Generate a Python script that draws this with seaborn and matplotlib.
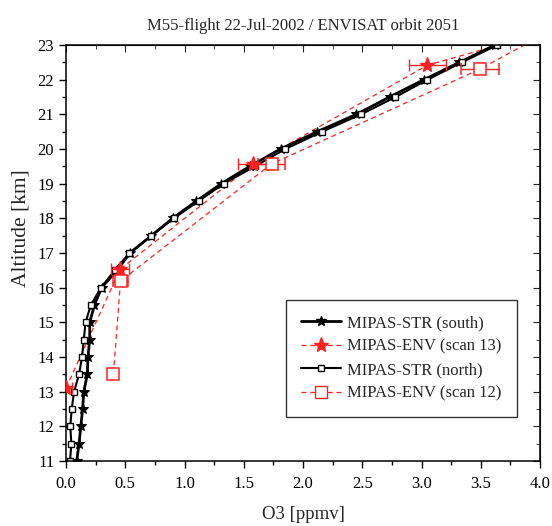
import numpy as np
import pandas as pd
import matplotlib
matplotlib.use("Agg")
import matplotlib.pyplot as plt
import seaborn as sns
from matplotlib.lines import Line2D
from matplotlib.ticker import MultipleLocator, FormatStrFormatter

# MIPAS-STR profiles, every 0.5 km
str_alt = [11.0, 11.5, 12.0, 12.5, 13.0, 13.5, 14.0, 14.5, 15.0, 15.5, 16.0, 16.5,
           17.0, 17.5, 18.0, 18.5, 19.0, 19.5, 20.0, 20.5, 21.0, 21.5, 22.0, 22.5, 23.0]
south_o3 = [0.09, 0.11, 0.125, 0.14, 0.15, 0.18, 0.185, 0.20, 0.20, 0.24, 0.30, 0.43,
            0.54, 0.72, 0.90, 1.10, 1.31, 1.55, 1.81, 2.12, 2.45, 2.73, 3.02, 3.32, 3.62]
north_o3 = [0.034, 0.045, 0.036, 0.048, 0.068, 0.11, 0.135, 0.15, 0.165, 0.21, 0.295, 0.41,
            0.535, 0.72, 0.91, 1.12, 1.33, 1.595, 1.85, 2.16, 2.49, 2.78, 3.05, 3.34, 3.64]

# MIPAS-ENV retrievals (last point lies above the plotted range)
scan13_alt = [13.1, 16.53, 19.56, 22.42, 23.6]
scan13_o3 = [0.0, 0.456, 1.58, 3.05, 4.29]
scan13_err = [0.05, 0.075, 0.13, 0.155, 0.0]

scan12_alt = [13.51, 16.19, 19.57, 22.3, 23.6]
scan12_o3 = [0.40, 0.46, 1.735, 3.49, 4.19]
scan12_err = [0.0, 0.063, 0.115, 0.16, 0.0]

sns.set_style("ticks")
plt.rcParams['font.family'] = ['Liberation Serif', 'DejaVu Serif']

fig = plt.figure(figsize=(5.52, 5.26), dpi=100)
ax = fig.add_axes([0.1196, 0.1236, 0.8587, 0.7908])

south = pd.DataFrame({"alt": str_alt, "o3": south_o3})
north = pd.DataFrame({"alt": str_alt, "o3": north_o3})
env13 = pd.DataFrame({"alt": scan13_alt, "o3": scan13_o3, "err": scan13_err})
env12 = pd.DataFrame({"alt": scan12_alt, "o3": scan12_o3, "err": scan12_err})

red = "#ff2020"
dash = (0, (4, 3))

# ENV dashed lines first
sns.lineplot(data=env13, x="o3", y="alt", sort=False, estimator=None, ax=ax,
             color=red, lw=0.9, linestyle=dash)
sns.lineplot(data=env12, x="o3", y="alt", sort=False, estimator=None, ax=ax,
             color=red, lw=0.9, linestyle=dash)

# STR black profiles
sns.lineplot(data=south, x="o3", y="alt", sort=False, estimator=None, ax=ax,
             color="black", lw=2.0, marker="*", markersize=7,
             markerfacecolor="black", markeredgecolor="black")
sns.lineplot(data=north, x="o3", y="alt", sort=False, estimator=None, ax=ax,
             color="black", lw=1.5, marker="s", markersize=5,
             markerfacecolor="white", markeredgecolor="black", markeredgewidth=1.0)

# ENV points with error bars
ax.errorbar(env13["o3"], env13["alt"], xerr=env13["err"], fmt="*", color=red,
            markersize=11, capsize=4, elinewidth=1, capthick=1, zorder=5)
ax.errorbar(env12["o3"], env12["alt"], xerr=env12["err"], fmt="s", color=red,
            markersize=8, markerfacecolor="white", markeredgewidth=1.1,
            capsize=4, elinewidth=1, capthick=1, zorder=5)

ax.set_xlim(0, 4.0)
ax.set_ylim(11, 23)
ax.xaxis.set_major_locator(MultipleLocator(0.5))
ax.xaxis.set_minor_locator(MultipleLocator(0.25))
ax.xaxis.set_major_formatter(FormatStrFormatter("%.1f"))
ax.yaxis.set_major_locator(MultipleLocator(1))
ax.yaxis.set_minor_locator(MultipleLocator(0.5))

ax.tick_params(axis="both", which="both", direction="out", labelsize=12,
               width=1, colors="black")
ax.tick_params(which="major", length=5)
ax.tick_params(which="minor", length=3)
ax.tick_params(axis="x", pad=6)
for s in ax.spines.values():
    s.set_linewidth(1.1)
    s.set_color("black")

# mirrored inward ticks on top / right
top = ax.secondary_xaxis("top")
top.xaxis.set_major_locator(MultipleLocator(0.5))
top.xaxis.set_minor_locator(MultipleLocator(0.25))
top.tick_params(which="both", direction="in", labeltop=False)
top.tick_params(which="major", length=5)
top.tick_params(which="minor", length=3)
right = ax.secondary_yaxis("right")
right.yaxis.set_major_locator(MultipleLocator(1))
right.yaxis.set_minor_locator(MultipleLocator(0.5))
right.tick_params(which="both", direction="in", labelright=False)
right.tick_params(which="major", length=5)
right.tick_params(which="minor", length=3)

ax.set_xlabel("O3 [ppmv]", fontsize=13.5, labelpad=10)
ax.set_ylabel("Altitude [km]", fontsize=15.5)
ax.yaxis.set_label_coords(-0.074, 0.56)
ax.set_title("M55-flight 22-Jul-2002 / ENVISAT orbit 2051", fontsize=12, pad=11)

handles = [
    Line2D([], [], color="black", lw=2.0, marker="*", markersize=7),
    Line2D([], [], color=red, lw=0.9, linestyle=dash, marker="*", markersize=11),
    Line2D([], [], color="black", lw=1.5, marker="s", markersize=5,
           markerfacecolor="white", markeredgecolor="black"),
    Line2D([], [], color=red, lw=0.9, linestyle=dash, marker="s", markersize=8,
           markerfacecolor="white", markeredgecolor=red),
]
labels = ["MIPAS-STR (south)", "MIPAS-ENV (scan 13)", "MIPAS-STR (north)", "MIPAS-ENV (scan 12)"]
leg = ax.legend(handles, labels, loc="upper right", bbox_to_anchor=(0.951, 0.387),
                fontsize=12, frameon=True, fancybox=False, numpoints=1,
                handlelength=2.4, handletextpad=0.4, labelspacing=0.45,
                borderpad=0.9, borderaxespad=0)
leg.get_frame().set_edgecolor("black")
leg.get_frame().set_linewidth(1.0)

fig.savefig("out.png", dpi=100)
